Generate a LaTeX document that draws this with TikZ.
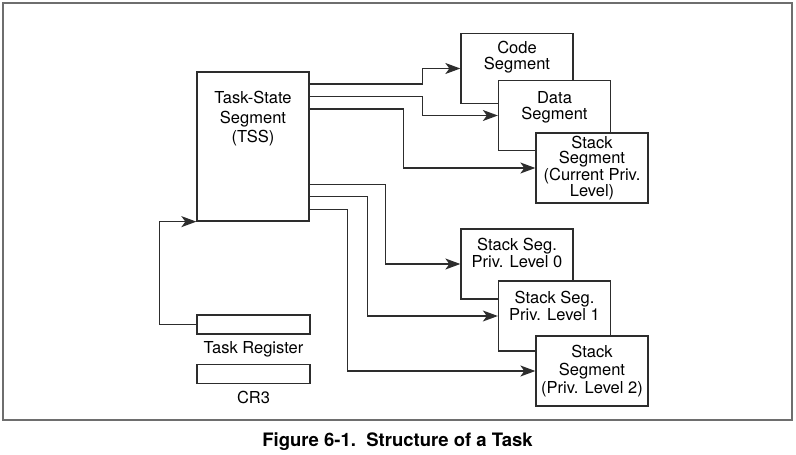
\documentclass[tikz,border=0pt]{standalone}
\usepackage{fontspec}
\setmainfont{TeX Gyre Heros}
\usetikzlibrary{arrows.meta, positioning}
\definecolor{lineg}{RGB}{45,45,45}
\definecolor{frameg}{RGB}{110,110,110}

\begin{document}
\begin{tikzpicture}[x=1pt, y=-1pt,
  font=\fontsize{16.5}{16.5}\selectfont,
  segbox/.style={draw=lineg, line width=1.3pt, fill=white,
    minimum width=112pt, minimum height=70pt, inner sep=0pt, align=center},
  segtext/.style={inner sep=0pt, align=center},
  link/.style={draw=lineg, line width=1.3pt,
    -{Stealth[length=15pt, width=11pt, inset=4pt]}}]
\useasboundingbox (0,0) rectangle (796,455);
% Frame
\draw[frameg, line width=1.5pt] (3,3) rectangle (792,420);
% TSS and registers
\node[segbox, minimum height=149pt] (tss) at (253,146.5) {};
\node[segtext, font=\fontsize{16.5}{19.5}\selectfont, below=20pt of tss.north]
  (tsstxt) {Task-State\\Segment\\(TSS)};
\node[segbox, minimum width=113pt, minimum height=19pt] (tr) at (253.5,324.5) {};
\node[segtext, below=7pt of tr.south] (trtxt) {Task Register};
\node[segbox, minimum width=113pt, minimum height=19pt] (cr) at (253.5,374.3) {};
\node[segtext, below=7pt of cr.south] (crtxt) {CR3};
% Segments
\node[segbox] (code) at (517,68.5) {};
\node[segtext, below=8pt of code.north] (codetxt) {Code\\Segment};
\node[segbox] (data) at (554.5,115.5) {};
\node[segtext, below=11pt of data.north] (datatxt) {Data\\Segment};
\node[segbox, font=\fontsize{16.5}{15.7}\selectfont] (stk) at (592,168)
  {Stack\\Segment\\(Current Priv.\\Level)};
\node[segbox] (st0) at (517,264) {};
\node[segtext, below=10pt of st0.north] (st0txt) {Stack Seg.\\Priv. Level 0};
\node[segbox] (st1) at (554.5,316) {};
\node[segtext, below=11pt of st1.north] (st1txt) {Stack Seg.\\Priv. Level 1};
\node[segbox, font=\fontsize{16.5}{18}\selectfont] (st2) at (592,371)
  {Stack\\Segment\\(Priv. Level 2)};
% Links
\draw[link] ([yshift=-12.5pt]tss.north east) -- ++(113,0) |- (code.west);
\draw[link] ([yshift=-25pt]tss.north east) -- ++(113,0) |- (data.west);
\draw[link] ([yshift=-37.5pt]tss.north east) -- ++(94,0) |- (stk.west);
\draw[link] ([yshift=37.5pt]tss.south east) -- ++(76,0) |- (st0.west);
\draw[link] ([yshift=25pt]tss.south east) -- ++(58,0) |- (st1.west);
\draw[link] ([yshift=12pt]tss.south east) -- ++(38,0) |- (st2.west);
\draw[link] (tr.west) -- ++(-37,0) |- (tss.south west);
% Caption
\node[anchor=base, font=\bfseries\fontsize{18.5}{20}\selectfont] (caption)
  at (397.5,446) {Figure 6-1.\ \ Structure of a Task};
\end{tikzpicture}
\end{document}
